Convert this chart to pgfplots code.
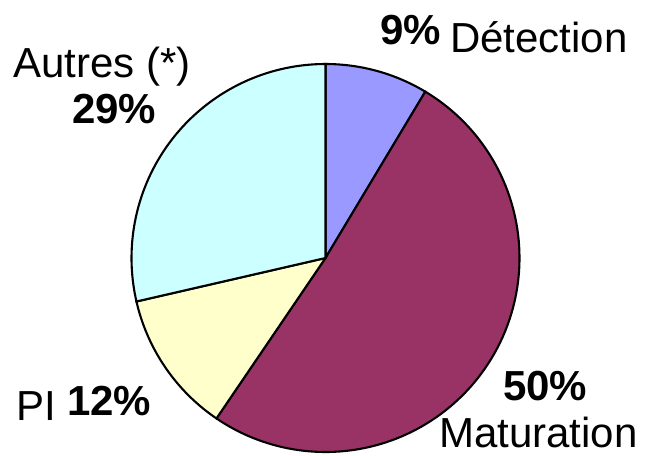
\documentclass[border=0pt]{standalone}
\usepackage{pgfplots}
\pgfplotsset{compat=1.18}
\usepackage{pgfplotstable}
\usepackage{fontspec}
\setmainfont{Liberation Sans}
\definecolor{cDet}{HTML}{9999FF}
\definecolor{cMat}{HTML}{993366}
\definecolor{cPI}{HTML}{FFFFCC}
\definecolor{cAut}{HTML}{CCFFFF}
\pgfplotstableread{
label pct
Detection 8.6
Maturation 50.9
PI 11.9
Autres 28.6
}\piedata
\pgfplotstablegetelem{0}{pct}\of\piedata \pgfmathsetmacro{\pA}{\pgfplotsretval}
\pgfplotstablegetelem{1}{pct}\of\piedata \pgfmathsetmacro{\pB}{\pgfplotsretval}
\pgfplotstablegetelem{2}{pct}\of\piedata \pgfmathsetmacro{\pC}{\pgfplotsretval}
\pgfplotstablegetelem{3}{pct}\of\piedata \pgfmathsetmacro{\pD}{\pgfplotsretval}
\pgfmathsetmacro{\aA}{90}
\pgfmathsetmacro{\aB}{\aA-3.6*\pA}
\pgfmathsetmacro{\aC}{\aB-3.6*\pB}
\pgfmathsetmacro{\aD}{\aC-3.6*\pC}
\pgfmathsetmacro{\aE}{\aD-3.6*\pD}
\newcommand{\cx}{325.5}
\newcommand{\cy}{258}
\newcommand{\rr}{194}
\newcommand{\lbl}{\fontsize{42bp}{48bp}\selectfont}
\begin{document}
\begin{tikzpicture}
\begin{axis}[
  width=645bp, height=456bp, scale only axis,
  xmin=0, xmax=645, ymin=0, ymax=456, y dir=reverse,
  hide axis, clip=false,
]
\path (axis cs:0,0) (axis cs:645,456);
\addplot[fill=cDet, draw=black, line width=2.1bp, domain=\aB:\aA, samples=40, variable=\t]
  ({\cx+\rr*cos(\t)}, {\cy-\rr*sin(\t)}) -- (axis cs:\cx,\cy) -- cycle;
\addplot[fill=cMat, draw=black, line width=2.1bp, domain=\aC:\aB, samples=120, variable=\t]
  ({\cx+\rr*cos(\t)}, {\cy-\rr*sin(\t)}) -- (axis cs:\cx,\cy) -- cycle;
\addplot[fill=cPI, draw=black, line width=2.1bp, domain=\aD:\aC, samples=40, variable=\t]
  ({\cx+\rr*cos(\t)}, {\cy-\rr*sin(\t)}) -- (axis cs:\cx,\cy) -- cycle;
\addplot[fill=cAut, draw=black, line width=2.1bp, domain=\aE:\aD, samples=70, variable=\t]
  ({\cx+\rr*cos(\t)}, {\cy-\rr*sin(\t)}) -- (axis cs:\cx,\cy) -- cycle;
\node[anchor=base west, inner sep=0pt] at (axis cs:380,45) {\lbl\bfseries 9\%};
\node[anchor=base west, inner sep=0pt] at (axis cs:450,53) {\lbl Détection};
\node[anchor=base west, inner sep=0pt] at (axis cs:13,78) {\lbl Autres (*)};
\node[anchor=base west, inner sep=0pt] at (axis cs:72,123) {\lbl\bfseries 29\%};
\node[anchor=base west, inner sep=0pt] at (axis cs:16,420) {\lbl PI};
\node[anchor=base west, inner sep=0pt] at (axis cs:67,415) {\lbl\bfseries 12\%};
\node[anchor=base west, inner sep=0pt] at (axis cs:503,400) {\lbl\bfseries 50\%};
\node[anchor=base west, inner sep=0pt] at (axis cs:439,447) {\lbl Maturation};
\end{axis}
\end{tikzpicture}
\end{document}
